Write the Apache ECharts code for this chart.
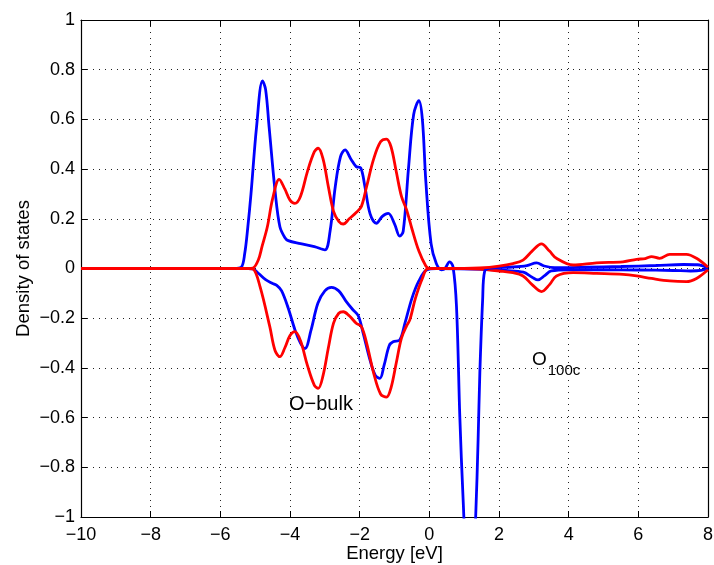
<!DOCTYPE html>
<html>
<head>
<meta charset="utf-8">
<script src="https://cdn.jsdelivr.net/npm/echarts@6/dist/echarts.min.js"></script>
<style>
  html, body { margin: 0; padding: 0; background: #fff; }
  #chart { width: 714px; height: 565px; }
</style>
</head>
<body>
<div id="chart"></div>
<script>
// Energy axis ticks (eV) and DOS axis ticks
const energyTicks = [-10, -8, -6, -4, -2, 0, 2, 4, 6, 8];
const dosTicks = [-1, -0.8, -0.6, -0.4, -0.2, 0, 0.2, 0.4, 0.6, 0.8, 1];

// O-bulk / O_100c projected DOS, [energy, dos] pairs
const blueUp = [
  [-10, 0], [-5.6, 0], [-5.4, 0.005], [-5.3, 0.06], [-5.21, 0.168], [-5.12, 0.30],
  [-4.96, 0.57], [-4.79, 0.755], [-4.7, 0.72], [-4.6, 0.57], [-4.42, 0.30], [-4.29, 0.168],
  [-4.15, 0.125], [-4.05, 0.112],
  [-3.7, 0.1], [-3.3, 0.088], [-3.0, 0.075], [-2.85, 0.15], [-2.7, 0.33], [-2.55, 0.45],
  [-2.42, 0.477], [-2.25, 0.44], [-2.1, 0.41], [-1.97, 0.405], [-1.85, 0.33], [-1.7, 0.22],
  [-1.52, 0.182], [-1.35, 0.21], [-1.18, 0.222], [-1.0, 0.18], [-0.85, 0.13], [-0.75, 0.15],
  [-0.6, 0.4], [-0.45, 0.62], [-0.3, 0.675], [-0.2, 0.6], [-0.1, 0.35], [0.05, 0.1],
  [0.2, 0.02], [0.35, -0.005], [0.45, 0.0], [0.58, 0.027], [0.68, 0.007], [0.78, -0.154],
  [0.875, -0.596], [0.97, -0.93], [1.17, -1.5], [1.33, -1.0], [1.4, -0.69], [1.45, -0.42],
  [1.53, -0.127], [1.59, -0.01], [1.8, 0.002], [2.4, 0.006], [2.8, 0.012], [3.08, 0.023],
  [3.3, 0.01], [3.6, 0.003], [4.5, 0.005], [5.5, 0.008], [6.5, 0.012], [7.3, 0.016],
  [7.7, 0.015], [8, 0.002]
];
const blueDown = [
  [-10, 0], [-5.2, 0], [-5.06, -0.002], [-4.9, -0.02], [-4.7, -0.045], [-4.5, -0.06],
  [-4.38, -0.068], [-4.24, -0.09], [-4.05, -0.16], [-3.85, -0.25], [-3.7, -0.3],
  [-3.57, -0.322], [-3.4, -0.25], [-3.2, -0.14], [-3.0, -0.09], [-2.81, -0.076],
  [-2.6, -0.09], [-2.4, -0.13], [-2.2, -0.165], [-2.04, -0.19], [-1.9, -0.26], [-1.7, -0.37],
  [-1.55, -0.43], [-1.42, -0.442], [-1.3, -0.39], [-1.15, -0.31], [-1.04, -0.295],
  [-0.85, -0.288], [-0.7, -0.22], [-0.5, -0.12], [-0.3, -0.05], [-0.08, -0.006], [0.2, 0],
  [1.6, -0.003], [2.2, -0.008], [2.7, -0.015], [2.95, -0.035], [3.12, -0.046], [3.3, -0.03],
  [3.5, -0.01], [4, -0.005], [5, -0.005], [6, -0.006], [7, -0.008], [7.5, -0.01],
  [7.8, -0.008], [8, 0]
];
const redUp = [
  [-10, 0], [-5.2, 0], [-5.06, 0.002], [-4.91, 0.034], [-4.8, 0.09], [-4.65, 0.168],
  [-4.5, 0.28], [-4.31, 0.359], [-4.15, 0.32], [-4.0, 0.275], [-3.86, 0.262], [-3.7, 0.29],
  [-3.5, 0.39], [-3.3, 0.47], [-3.19, 0.484], [-3.05, 0.44], [-2.9, 0.33], [-2.75, 0.23],
  [-2.6, 0.19], [-2.47, 0.179], [-2.3, 0.2], [-2.1, 0.225], [-1.95, 0.25], [-1.8, 0.33],
  [-1.6, 0.44], [-1.4, 0.51], [-1.23, 0.521], [-1.1, 0.49], [-0.95, 0.39], [-0.8, 0.29],
  [-0.65, 0.235], [-0.5, 0.16], [-0.3, 0.07], [-0.1, 0.01], [0, 0], [1.0, 0],
  [1.45, 0.002], [2.0, 0.01], [2.4, 0.02], [2.69, 0.034], [2.95, 0.07], [3.22, 0.099],
  [3.45, 0.07], [3.65, 0.041], [4.13, 0.014], [4.8, 0.023], [5.56, 0.027], [5.95, 0.037],
  [6.2, 0.04], [6.38, 0.048], [6.61, 0.041], [6.9, 0.057], [7.38, 0.057], [7.67, 0.041],
  [8, 0.005]
];
const redDown = [
  [-10, 0], [-5.2, 0], [-5.06, -0.002], [-4.86, -0.073], [-4.58, -0.234], [-4.43, -0.33],
  [-4.29, -0.355], [-4.15, -0.32], [-4.0, -0.27], [-3.86, -0.254], [-3.7, -0.29],
  [-3.5, -0.39], [-3.3, -0.47], [-3.19, -0.482], [-3.05, -0.43], [-2.9, -0.32],
  [-2.75, -0.22], [-2.6, -0.18], [-2.47, -0.174], [-2.3, -0.19], [-2.1, -0.22],
  [-1.95, -0.234], [-1.8, -0.3], [-1.6, -0.42], [-1.4, -0.505], [-1.23, -0.518],
  [-1.1, -0.48], [-0.95, -0.38], [-0.8, -0.28], [-0.65, -0.23], [-0.56, -0.207],
  [-0.4, -0.12], [-0.2, -0.04], [-0.03, 0], [1.0, 0], [1.45, -0.002], [2.0, -0.01],
  [2.4, -0.017], [2.69, -0.03], [2.95, -0.065], [3.22, -0.093], [3.45, -0.065],
  [3.65, -0.03], [4.13, -0.017], [4.8, -0.02], [5.56, -0.024], [5.95, -0.03],
  [6.38, -0.04], [6.9, -0.05], [7.38, -0.053], [7.67, -0.04], [8, -0.005]
];

const FONT = '"Liberation Sans", Arial, Helvetica, sans-serif';
const minus = v => String(v).replace('-', '\u2212');

const chart = echarts.init(document.getElementById('chart'), null, { renderer: 'canvas' });

const gridLine = { show: true, lineStyle: { color: '#222', width: 1, type: [1, 5] } };
const tickIn = { show: true, inside: true, length: 6, lineStyle: { color: '#000', width: 1 } };
const axisBox = { show: true, onZero: false, lineStyle: { color: '#000', width: 1.2 } };

function curve(data, color) {
  return {
    type: 'line', data: data, smooth: 0.35, showSymbol: false, clip: true,
    lineStyle: { color: color, width: 2.8 }, silent: true
  };
}

chart.setOption({
  animation: false,
  backgroundColor: '#fff',
  grid: { left: 81, right: 6, top: 20, bottom: 48, containLabel: false, outerBoundsMode: 'none' },
  xAxis: [{
    type: 'value', min: -10, max: 8, interval: 2,
    axisLine: axisBox, axisTick: tickIn, splitLine: gridLine,
    axisLabel: { color: '#000', fontSize: 18, fontFamily: FONT, margin: 9, formatter: minus },
    name: 'Energy [eV]', nameLocation: 'middle', nameGap: 27, nameMoveOverlap: false,
    nameTextStyle: { color: '#000', fontSize: 18.5, fontFamily: FONT }
  }, {
    type: 'value', position: 'top', min: -10, max: 8, interval: 2,
    axisLine: axisBox, axisTick: tickIn, axisLabel: { show: false }, splitLine: { show: false }
  }],
  yAxis: [{
    type: 'value', min: -1, max: 1, interval: 0.2,
    axisLine: axisBox, axisTick: tickIn, splitLine: gridLine,
    axisLabel: {
      color: '#000', fontSize: 18, fontFamily: FONT, margin: 6,
      formatter: v => minus(Math.round(v * 10) / 10)
    },
    name: 'Density of states', nameLocation: 'middle', nameGap: 48, nameRotate: 90,
    nameMoveOverlap: false,
    nameTextStyle: { color: '#000', fontSize: 18.5, fontFamily: FONT }
  }, {
    type: 'value', position: 'right', min: -1, max: 1, interval: 0.2,
    axisLine: axisBox, axisTick: tickIn, axisLabel: { show: false }, splitLine: { show: false }
  }],
  series: [
    curve(blueDown, '#0000ff'),
    curve(redDown, '#ff0000'),
    curve(blueUp, '#0000ff'),
    curve(redUp, '#ff0000')
  ],
  graphic: [
    {
      type: 'text', left: 289, top: 394,
      style: { text: 'O\u2212bulk', fill: '#000', font: '20px ' + FONT }
    },
    {
      type: 'text', left: 532, top: 350,
      style: {
        text: '{o|O}{s|100c}', fill: '#000',
        rich: {
          o: { fontSize: 19, fontFamily: FONT, fill: '#000', verticalAlign: 'top' },
          s: { fontSize: 15, fontFamily: FONT, fill: '#000', padding: [13, 0, 0, 1], verticalAlign: 'top' }
        }
      }
    }
  ]
});
</script>
</body>
</html>
